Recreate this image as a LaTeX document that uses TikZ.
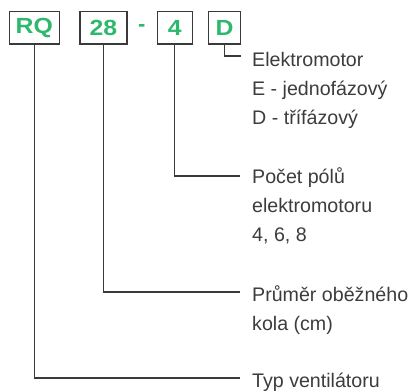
\documentclass[tikz,border=0pt]{standalone}
\usepackage{graphicx}
\usepackage{fontspec}
\setmainfont{Liberation Sans}
\definecolor{codegreen}{RGB}{46,184,110}
\definecolor{boxgray}{RGB}{58,58,58}
\definecolor{txtgray}{RGB}{60,60,60}
\newcommand{\widecode}[1]{\scalebox{1.13}[1]{#1}}
\tikzset{
  codebox/.style={draw=boxgray, line width=1.4bp, inner sep=0pt, minimum height=32.5bp,
    text=codegreen, font=\bfseries\fontsize{22}{22}\selectfont},
  sep/.style={text=codegreen, inner sep=0pt, font=\bfseries\fontsize{22}{22}\selectfont},
  desc/.style={inner sep=0pt, anchor=base west, align=left, text=txtgray,
    font=\fontsize{19.7}{29}\selectfont},
  conn/.style={draw=boxgray, line width=1.3bp}
}
\begin{document}
\begin{tikzpicture}[x=1bp,y=-1bp]
\useasboundingbox (0,0) rectangle (414,391);
% code boxes
\node[codebox, minimum width=50bp] (rq) at (34.3,27.9) {\widecode{RQ}};
\node[codebox, minimum width=46.7bp] (d28) at (103.5,27.9) {\widecode{28}};
\node[sep] (dash) at (141.8,28.5) {-};
\node[codebox, minimum width=35bp] (p4) at (174.8,27.9) {\widecode{4}};
\node[codebox, minimum width=32.5bp] (md) at (224.5,27.9) {\widecode{D}};
% descriptions (anchored at the baseline of their last line)
\node[desc] (tmotor) at (252,124) {Elektromotor\\E - jednofázový\\D - třífázový};
\node[desc] (tpoles) at (252,241) {Počet pólů\\elektromotoru\\4, 6, 8};
\node[desc] (tdiam) at (252,330) {Průměr oběžného\\kola (cm)};
\node[desc] (ttype) at (252,387) {Typ ventilátoru};
% connector ends
\coordinate (emotor) at (240.7,56);
\coordinate (epoles) at (240,176);
\coordinate (ediam) at (240,292);
\coordinate (etype) at (240,378);
\draw[conn] (md.south) |- (emotor);
\draw[conn] (p4.south) |- (epoles);
\draw[conn] (d28.south) |- (ediam);
\draw[conn] (rq.south) |- (etype);
\end{tikzpicture}
\end{document}
